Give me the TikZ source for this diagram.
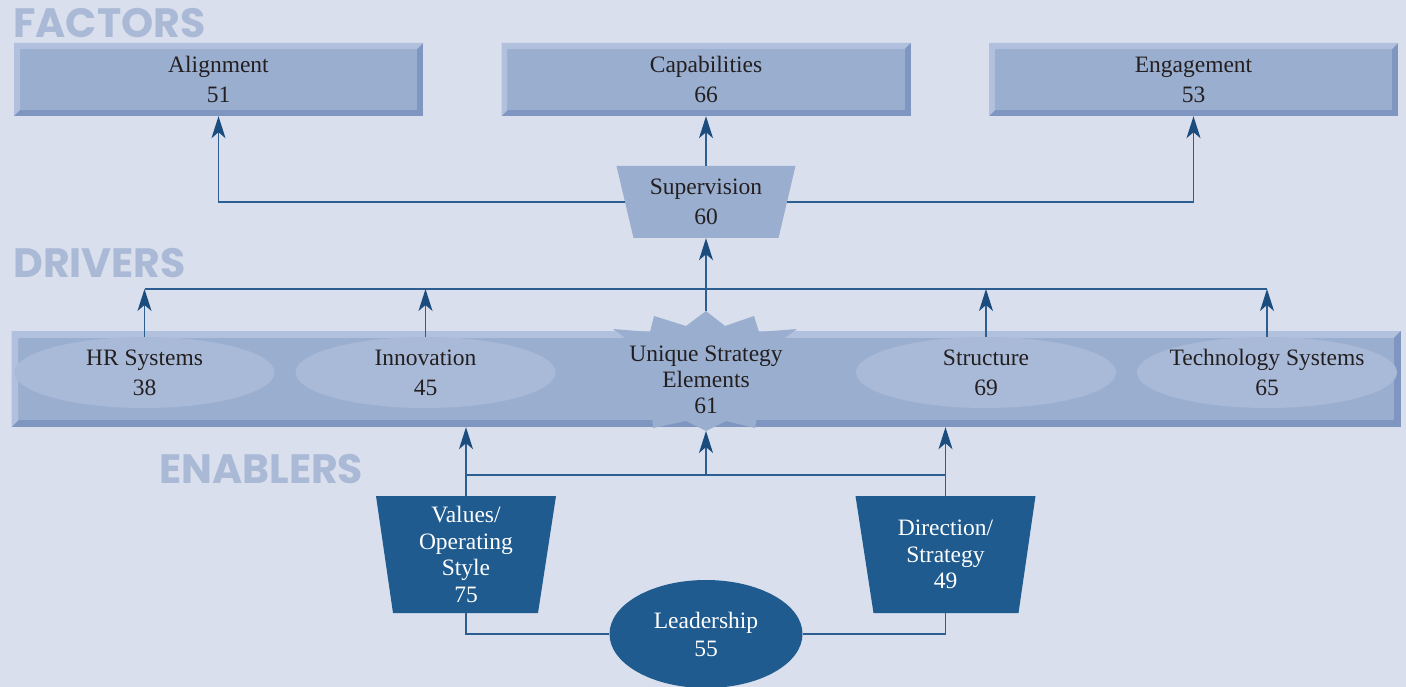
\documentclass[tikz,border=0pt]{standalone}
\usepackage{fontspec}
\setmainfont{Liberation Serif}
\newfontfamily\headfont{Poppins}
\usetikzlibrary{arrows.meta,shapes.geometric}
\definecolor{bgblue}{HTML}{D9DFEC}
\definecolor{bvface}{HTML}{9AAED0}
\definecolor{bvlight}{HTML}{B1C0DC}
\definecolor{bvdark}{HTML}{7F97C0}
\definecolor{ellblue}{HTML}{A9BAD8}
\definecolor{enblue}{HTML}{1F5B8F}
\definecolor{lineblue}{HTML}{2C5E92}
\definecolor{tipblue}{HTML}{1A4C7E}
\definecolor{headblue}{HTML}{AAB9D6}
\definecolor{inkgrey}{HTML}{231F20}
\begin{document}
\begin{tikzpicture}[x=1pt,y=-1pt,
  txt/.style={font=\fontsize{23.5}{30}\selectfont, text=inkgrey, align=center},
  bevel/.style={fill=bvdark, inner sep=0pt, path picture={
    \fill[bvlight] (path picture bounding box.south west) -- (path picture bounding box.north west)
      -- (path picture bounding box.north east) -- ([xshift=-#1,yshift=-#1]path picture bounding box.north east)
      -- ([xshift=#1,yshift=-#1]path picture bounding box.north west) -- ([xshift=#1,yshift=#1]path picture bounding box.south west) -- cycle;
    \fill[bvface] ([xshift=#1,yshift=-#1]path picture bounding box.north west) rectangle ([xshift=-#1,yshift=#1]path picture bounding box.south east);}},
  factor/.style={txt, bevel=6pt, minimum width=409pt, minimum height=73pt},
  driver/.style={txt, ellipse, fill=ellblue, inner xsep=-30pt, inner ysep=-10pt, minimum width=260pt, minimum height=71pt},
  enabler/.style={text=white, align=center, font=\fontsize{23.5}{26.5}\selectfont, inner sep=0pt,
    minimum width=162pt, minimum height=117pt},
  head/.style={font=\headfont\bfseries\fontsize{41}{44}\selectfont, text=headblue, inner sep=0pt, anchor=base west},
  link/.style={draw=lineblue, line width=1.3pt},
  arrow/.style={link, -{Stealth[length=22pt,width=14pt,inset=6pt,color=tipblue]}}]

\useasboundingbox (0,0) rectangle (1406,687);
\fill[bgblue] (0,0) rectangle (1406,687);
%\draw[help lines, color=gray!30, dashed] (0,0) grid[step=50pt] (1406,687);

\node[head] (facthd) at (13,38) {FACTORS};
\node[head] (drvhd) at (13,277) {DRIVERS};
\node[head] (enbhd) at (159,483) {ENABLERS};

\node[factor] (align) at (218.5,79.5) {Alignment\\51};
\node[factor] (capab) at (706,79.5) {Capabilities\\66};
\node[factor] (engage) at (1193.5,79.5) {Engagement\\53};

\fill[bvface] (616.5,166) -- (795.5,166) -- (778.5,238) -- (633.5,238) -- cycle;
\node[txt, inner sep=0pt, minimum width=162pt, minimum height=72pt] (superv) at (706,202) {Supervision\\60};

\node[bevel=7pt, minimum width=1389pt, minimum height=96pt] (drivers) at (706,379) {};
% starburst
\fill[bvface] (613,329) -- (650,332) -- (654,316) -- (686,326) -- (706,311) -- (725,326) -- (754,316) -- (759,332) -- (797,329)
  -- (775,345) -- (762,390) -- (755,428) -- (726,421) -- (706,431) -- (686,421) -- (653,428) -- (650,390) -- (635,345) -- cycle;

\node[driver] (hr) at (144.5,372.5) {HR Systems\\38};
\node[driver] (innov) at (425.5,372.5) {Innovation\\45};
\node[driver] (struct) at (986,372.5) {Structure\\69};
\node[driver] (tech) at (1267,372.5) {Technology Systems\\65};
\node[txt, font=\fontsize{23.5}{26}\selectfont] (unique) at (706,380) {Unique Strategy\\Elements\\61};

\coordinate (bursttop) at (706,311);
\coordinate (burstbot) at (706,431);
\coordinate (drvbus) at (706,289);
\coordinate (enbus) at (706,475);

\fill[enblue] (376,496) -- (556,496) -- (538,613) -- (393,613) -- cycle;
\fill[enblue] (855.5,496) -- (1035.5,496) -- (1018.5,613) -- (873.5,613) -- cycle;
\node[enabler] (values) at (466,554.5) {Values/\\Operating\\Style\\75};
\node[enabler] (direct) at (945.5,554.5) {Direction/\\Strategy\\49};
\node[ellipse, fill=enblue, text=white, font=\fontsize{23.5}{28}\selectfont, align=center, inner sep=0pt, minimum width=193pt, minimum height=108pt] (lead) at (706,634) {Leadership\\55};

\draw[arrow] (superv) -| (align);
\draw[arrow] (superv) -| (engage);
\draw[arrow] (superv) -- (capab);
\draw[arrow] (bursttop) -- (superv);
\draw[link] (hr |- drvbus) -- (tech |- drvbus);
\draw[arrow] (hr) -- (hr |- drvbus);
\draw[arrow] (innov) -- (innov |- drvbus);
\draw[arrow] (struct) -- (struct |- drvbus);
\draw[arrow] (tech) -- (tech |- drvbus);
\draw[arrow] (values) -- (values |- drivers.south);
\draw[arrow] (direct) -- (direct |- drivers.south);
\draw[link] (values |- enbus) -- (direct |- enbus);
\draw[arrow] (enbus) -- (burstbot);
\draw[link] (values) |- (lead);
\draw[link] (direct) |- (lead);
\end{tikzpicture}
\end{document}
